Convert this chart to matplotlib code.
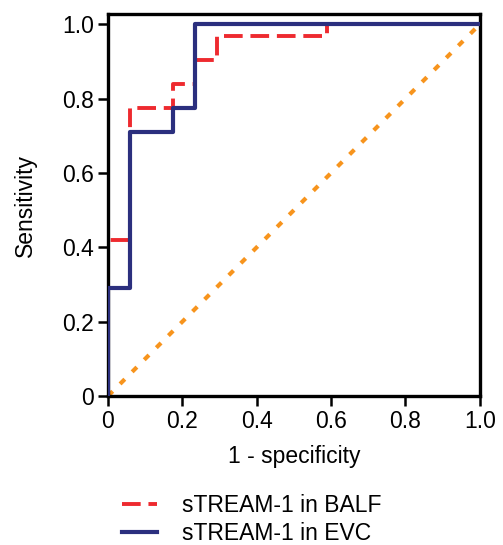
import numpy as np
import matplotlib.pyplot as plt

plt.rcParams['font.family'] = ['Liberation Sans', 'DejaVu Sans']

# ROC step curves (1 - specificity, sensitivity)
balf_fpr = [0, 0, 0.059, 0.059, 0.176, 0.176, 0.235, 0.235, 0.294, 0.294, 0.588, 0.588, 1.0]
balf_tpr = [0, 0.419, 0.419, 0.774, 0.774, 0.839, 0.839, 0.903, 0.903, 0.968, 0.968, 1.0, 1.0]

evc_fpr = [0, 0, 0.059, 0.059, 0.176, 0.176, 0.235, 0.235, 1.0]
evc_tpr = [0, 0.290, 0.290, 0.710, 0.710, 0.774, 0.774, 1.0, 1.0]

ref = [0, 1]
xticks = [0, 0.2, 0.4, 0.6, 0.8, 1.0]
xlabels = ['0', '0.2', '0.4', '0.6', '0.8', '1.0']
yticks = [0, 0.2, 0.4, 0.6, 0.8, 1.0]
ylabels = ['0', '0.2', '0.4', '0.6', '0.8', '1.0']

fig = plt.figure(figsize=(5.03, 5.45), dpi=100)
ax = fig.add_axes([0.2147, 0.2734, 0.7393, 0.7006])

ax.plot(ref, ref, color='#F7941D', lw=3.0, linestyle=(0, (1.6, 2.5)), zorder=1)
ax.plot(balf_fpr, balf_tpr, color='#EE2A2F', lw=2.8, linestyle=(0, (4.8, 2.0)),
        label='sTREAM-1 in BALF', zorder=2)
ax.plot(evc_fpr, evc_tpr, color='#2B2F7E', lw=3.0, label='sTREAM-1 in EVC', zorder=3)

ax.set_xlim(0, 1.0)
ax.set_ylim(0, 1.027)
ax.set_xticks(xticks)
ax.set_xticklabels(xlabels)
ax.set_yticks(yticks)
ax.set_yticklabels(ylabels)
ax.tick_params(direction='out', length=7, width=1.8, labelsize=16.5, pad=3)
for s in ax.spines.values():
    s.set_linewidth(2.4)
    s.set_color('black')

ax.set_xlabel('1 - specificity', fontsize=16.5, labelpad=9)
ax.set_ylabel('Sensitivity', fontsize=16.5, labelpad=18)

ax.legend(loc='upper left', bbox_to_anchor=(0.2425, 0.094), bbox_transform=fig.transFigure,
          frameon=False, fontsize=16.5, borderpad=0, borderaxespad=0,
          handlelength=1.55, handletextpad=1.05, labelspacing=0.22)

fig.savefig('out.png', dpi=100)
